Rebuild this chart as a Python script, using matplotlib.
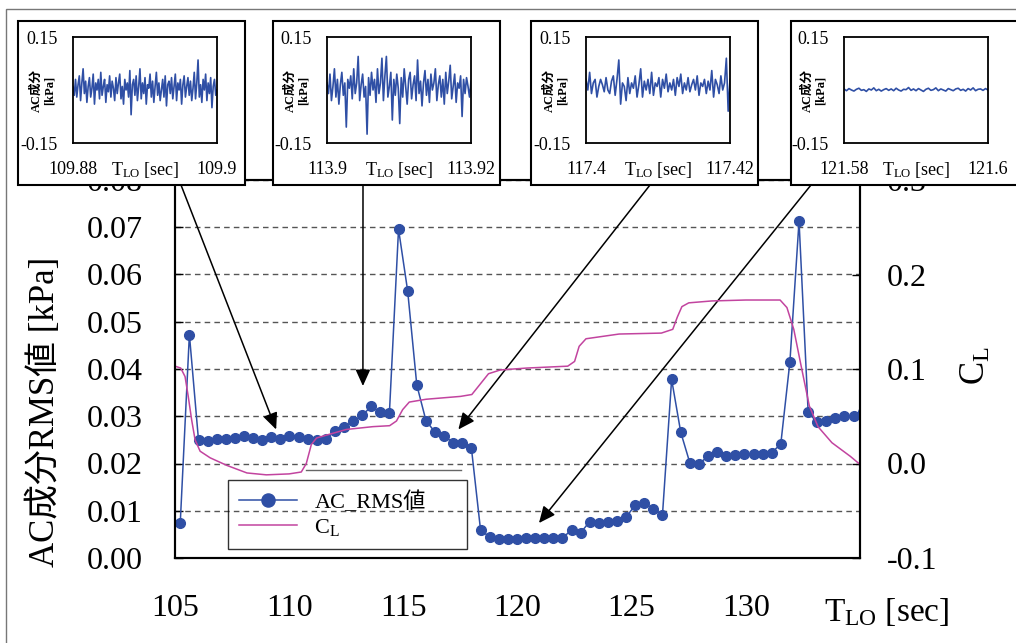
import numpy as np
import matplotlib
matplotlib.use('Agg')
from matplotlib import pyplot as plt
from matplotlib.patches import Rectangle

plt.rcParams['font.family'] = ['Liberation Serif', 'Noto Sans CJK JP']
plt.rcParams['mathtext.fontset'] = 'custom'
plt.rcParams['mathtext.rm'] = 'Liberation Serif'
plt.rcParams['mathtext.it'] = 'Liberation Serif:italic'
plt.rcParams['axes.unicode_minus'] = False

# AC_RMS values (kPa) vs T_LO (sec)
rms_time = [105.23, 105.63, 106.03, 106.43, 106.82, 107.22, 107.62, 108.02, 108.42, 108.82,
             109.22, 109.61, 110.01, 110.41, 110.81, 111.21, 111.61, 112.00, 112.40, 112.80,
             113.20, 113.60, 113.99, 114.39, 114.79, 115.19, 115.59, 115.99, 116.39, 116.79,
             117.19, 117.58, 117.98, 118.38, 118.78, 119.18, 119.58, 119.97, 120.37, 120.77,
             121.17, 121.57, 121.97, 122.37, 122.76, 123.16, 123.56, 123.96, 124.36, 124.76,
             125.16, 125.55, 125.95, 126.35, 126.75, 127.15, 127.55, 127.94, 128.34, 128.74,
             129.14, 129.54, 129.94, 130.34, 130.73, 131.13, 131.53, 131.93, 132.33, 132.73,
             133.13, 133.52, 133.92, 134.32, 134.72, 135.12]
rms_value = [0.0074, 0.0473, 0.0249, 0.0248, 0.0251, 0.0252, 0.0255, 0.0258, 0.0254, 0.0249,
             0.0257, 0.0252, 0.0259, 0.0256, 0.0251, 0.0250, 0.0251, 0.0269, 0.0278, 0.0289,
             0.0302, 0.0321, 0.0308, 0.0307, 0.0696, 0.0565, 0.0366, 0.0291, 0.0266, 0.0259,
             0.0243, 0.0244, 0.0233, 0.0060, 0.0044, 0.0040, 0.0040, 0.0041, 0.0042, 0.0042,
             0.0042, 0.0042, 0.0042, 0.0060, 0.0053, 0.0077, 0.0074, 0.0076, 0.0078, 0.0087,
             0.0112, 0.0117, 0.0104, 0.0092, 0.0378, 0.0266, 0.0201, 0.0199, 0.0215, 0.0224,
             0.0215, 0.0217, 0.0220, 0.0221, 0.0221, 0.0223, 0.0241, 0.0415, 0.0713, 0.0308,
             0.0287, 0.0289, 0.0296, 0.0300, 0.0301, 0.0308]

# lift coefficient C_L
cl_time = [105.0, 105.25, 105.44, 105.58, 105.73, 105.88, 106.1, 106.54, 107.27, 108.15,
           109.0, 110.0, 110.53, 110.75, 110.97, 111.2, 111.63, 112.5, 113.67, 114.4,
           114.7, 114.97, 115.26, 116.0, 117.5, 118.0, 118.3, 118.73, 119.25, 120.4,
           122.2, 122.5, 122.7, 123.0, 124.45, 126.3, 126.8, 127.0, 127.2, 127.5,
           128.5, 130.0, 131.5, 131.8, 132.1, 132.39, 132.78, 133.16, 133.77, 134.58, 135.0]
cl_value = [0.103, 0.101, 0.092, 0.071, 0.046, 0.025, 0.013, 0.006, -0.002, -0.010,
            -0.012, -0.011, -0.009, 0.000, 0.020, 0.027, 0.030, 0.036, 0.039, 0.040,
            0.045, 0.057, 0.065, 0.068, 0.071, 0.073, 0.082, 0.095, 0.099, 0.101,
            0.103, 0.108, 0.124, 0.132, 0.137, 0.138, 0.142, 0.155, 0.166, 0.170,
            0.172, 0.173, 0.173, 0.165, 0.142, 0.107, 0.061, 0.039, 0.022, 0.0075, -0.001]

x_ticks = [105, 110, 115, 120, 125, 130]
left_ticks = [0.00, 0.01, 0.02, 0.03, 0.04, 0.05, 0.06, 0.07, 0.08]
right_ticks = [-0.1, 0.0, 0.1, 0.2, 0.3]

# waveforms shown in the four small windows (kPa)
inset_range = [(109.88, 109.9), (113.9, 113.92), (117.4, 117.42), (121.58, 121.6)]
inset_labels = [('109.88', '109.9'), ('113.9', '113.92'), ('117.4', '117.42'), ('121.58', '121.6')]
wave1 = [0.010, -0.015, 0.030, -0.020, 0.015, 0.040, -0.030, 0.020, 0.060, -0.010, 0.025, -0.035,
         0.010, 0.035, -0.020, 0.005, 0.045, -0.040, 0.020, 0.000, 0.030, -0.025, 0.050, -0.015,
         0.010, 0.030, -0.035, 0.015, -0.005, 0.040, -0.020, 0.025, 0.005, -0.030, 0.035, -0.010,
         0.020, 0.045, -0.025, 0.010, -0.040, 0.030, 0.000, 0.020, -0.020, 0.055, -0.070, 0.015,
         0.030, -0.015, 0.040, -0.030, 0.010, 0.060, -0.025, 0.020, -0.010, 0.035, -0.040, 0.015,
         0.005, 0.045, -0.020, 0.025, -0.035, 0.010, 0.050, -0.015, 0.020, -0.030, 0.000, 0.030,
         -0.020, 0.040, -0.045, 0.015, 0.025, -0.010, 0.035, -0.025, 0.010, 0.045, -0.030, 0.020,
         0.000, 0.030, -0.040, 0.015, 0.040, -0.020, 0.010, 0.035, -0.015, 0.025, -0.030, 0.005,
         0.050, -0.025, 0.020, 0.085, -0.020, 0.015, -0.035, 0.030, 0.000, 0.045, -0.030, 0.020,
         -0.010, 0.035, -0.050, 0.010, 0.030, -0.015, 0.000]
wave2 = [0.020, -0.010, 0.045, -0.030, 0.010, 0.060, -0.020, 0.030, -0.040, 0.015, 0.050, -0.015,
         0.020, -0.105, 0.030, 0.005, 0.040, -0.025, 0.060, -0.010, 0.020, 0.095, -0.030, 0.015,
         0.045, -0.020, 0.010, -0.125, 0.035, -0.015, 0.050, 0.000, 0.030, -0.035, 0.060, -0.010,
         0.020, 0.090, -0.030, 0.040, 0.095, -0.020, 0.010, 0.050, -0.085, 0.030, -0.015, 0.045,
         0.005, -0.095, 0.035, -0.020, 0.060, 0.010, -0.040, 0.030, 0.050, -0.025, 0.015, 0.040,
         -0.030, 0.085, -0.010, 0.025, -0.045, 0.020, 0.055, -0.015, 0.030, -0.035, 0.045, 0.000,
         0.020, 0.060, -0.030, 0.015, 0.040, -0.020, 0.030, -0.040, 0.050, -0.010, 0.025, 0.070,
         -0.025, 0.010, 0.045, -0.035, 0.020, 0.005, 0.040, -0.075, 0.030, -0.010, 0.035, 0.010,
         -0.020, 0.025]
wave3 = [0.030, 0.000, 0.050, -0.010, 0.020, 0.030, -0.020, 0.010, 0.030, 0.015, -0.005, 0.035,
         0.000, -0.010, 0.025, 0.040, -0.015, 0.030, 0.085, -0.040, 0.020, 0.010, -0.030, 0.035,
         -0.010, 0.020, 0.005, 0.040, -0.020, 0.015, 0.060, -0.020, 0.025, 0.000, 0.030, -0.010,
         0.050, -0.015, 0.020, 0.010, 0.035, -0.020, 0.030, 0.005, 0.045, -0.005, 0.020, 0.000,
         0.030, -0.015, 0.035, 0.010, 0.045, -0.010, 0.020, 0.000, 0.035, -0.005, 0.015, 0.030,
         0.000, 0.040, -0.015, 0.020, 0.010, 0.030, -0.010, 0.025, 0.000, 0.055, -0.020, 0.030,
         0.015, -0.010, 0.040, 0.000, 0.020, 0.090, -0.060, 0.030]
wave4 = [0.003, -0.002, 0.004, 0.000, -0.003, 0.002, 0.005, -0.001, 0.001, -0.004, 0.003, 0.000,
         0.006, -0.002, 0.002, -0.003, 0.001, 0.004, -0.001, 0.003, -0.002, 0.005, 0.000, -0.003,
         0.002, 0.001, 0.007, -0.001, 0.003, -0.002, 0.004, 0.000, -0.004, 0.002, 0.005, -0.001,
         0.001, 0.006, -0.002, 0.003, 0.000, -0.003, 0.004, 0.001, -0.002, 0.003, 0.005, -0.001,
         0.002, -0.003, 0.004, 0.000, 0.006, -0.002, 0.002, 0.003, -0.001, 0.004, 0.000]
waves = [wave1, wave2, wave3, wave4]

# arrow tips (data) for each window
arrow_tip_time = [109.43, 113.23, 117.41, 120.94]
arrow_tip_value = [0.0272, 0.0364, 0.0272, 0.0074]

blue = '#2F4FA5'
magenta = '#C2449F'
W, H = 1016, 643

fig = plt.figure(figsize=(W / 100, H / 100), dpi=100)

# outer gray frame
fig.add_artist(Rectangle((6 / W, -0.05), 1.1, (H - 9) / H + 0.05, transform=fig.transFigure,
                         fill=False, edgecolor='#777777', lw=1, zorder=0.5))

ax = fig.add_axes([175 / W, (H - 558) / H, 685 / W, 378 / H])
ax2 = ax.twinx()

ax.plot(rms_time, rms_value, color=blue, lw=1.1, marker='o', ms=7, label='AC_RMS値')
ax2.plot(cl_time, cl_value, color=magenta, lw=1.1, label='C$_{\\mathrm{L}}$')

ax.set_xlim(105, 135)
ax.set_ylim(0, 0.08)
ax2.set_ylim(-0.1, 0.3)
ax.set_xticks(x_ticks)
ax.set_yticks(left_ticks)
ax.set_yticklabels(['%.2f' % v for v in left_ticks])
ax2.set_yticks(right_ticks)
ax2.set_yticklabels(['%.1f' % v for v in right_ticks])
ax.set_xticks([110, 115, 120, 125, 130], minor=True)

ax.grid(False)
ax.grid(True, axis='y', which='major', linestyle=(0, (4, 3)), color='#555555', lw=1)
ax.grid(True, axis='x', which='minor', linestyle=(0, (4, 3)), color='#555555', lw=1)
ax.tick_params(axis='x', which='both', length=0, labelsize=23, pad=26)
ax.tick_params(axis='y', direction='in', length=6, width=1, labelsize=23, pad=23)
ax2.tick_params(axis='y', direction='in', length=6, width=1, labelsize=23, pad=19)
for a in (ax, ax2):
    for s in a.spines.values():
        s.set_linewidth(1.5)
        s.set_color('black')

# stray gray rule above the legend
ax.plot([0.191, 0.4175], [0.233, 0.233], transform=ax.transAxes, color='#666666', lw=1)

handles = ax.get_lines()[:1] + ax2.get_lines()[:1]
leg = ax2.legend(handles, [h.get_label() for h in handles], loc='upper left',
                 bbox_to_anchor=(0.077, 0.029, 0.35, 0.177), mode='expand',
                 borderaxespad=0, fontsize=16, markerscale=1.35, handlelength=2.6,
                 fancybox=False, frameon=True, borderpad=0.5, labelspacing=0.2)
leg.get_frame().set_edgecolor('black')
leg.get_frame().set_facecolor('none')
leg.get_frame().set_linewidth(1)

fig.text(45 / W, (H - 412) / H, 'AC成分RMS値 [kPa]', rotation=90, ha='center', va='center',
         fontsize=25)
fig.text(976 / W, (H - 366) / H, 'C$_{\\mathrm{L}}$', rotation=90, ha='center', va='center',
         fontsize=25)
fig.text(887 / W, (H - 612) / H, 'T$_{\\mathrm{LO}}$ [sec]', ha='center', va='center', fontsize=24)

# arrows from the windows to the curve
arrow_start_px = [181, 363, 650, 811]
for i in range(4):
    ax.annotate('', xy=(arrow_tip_time[i], arrow_tip_value[i]), xycoords='data',
                xytext=(arrow_start_px[i], H - 185), textcoords='figure pixels',
                arrowprops=dict(arrowstyle='-|>,head_length=1.0,head_width=0.45',
                                mutation_scale=10, color='black', lw=1.1,
                                shrinkA=0, shrinkB=0),
                annotation_clip=False)

# the four waveform windows
box_left = [18, 273, 531, 791]
inner_left = [73, 327, 586, 844]
for i in range(4):
    bw = 227 if i < 3 else 260
    fig.add_artist(Rectangle((box_left[i] / W, (H - 185) / H), bw / W, 164 / H,
                             transform=fig.transFigure, facecolor='white',
                             edgecolor='black', lw=1.5, zorder=1))
    ia = fig.add_axes([inner_left[i] / W, (H - 143) / H, 144 / W, 106 / H], zorder=3)
    t0, t1 = inset_range[i]
    ia.plot(np.linspace(t0, t1, len(waves[i])), waves[i], color=blue, lw=1.2)
    ia.set_xlim(t0, t1)
    ia.set_ylim(-0.15, 0.15)
    ia.set_xticks([t0, t1])
    ia.set_xticklabels(inset_labels[i])
    ia.set_yticks([-0.15, 0.15])
    ia.set_yticklabels(['-0.15', '0.15'])
    ia.tick_params(length=0, labelsize=13)
    ia.tick_params(axis='y', pad=11)
    ia.tick_params(axis='x', pad=13)
    for s in ia.spines.values():
        s.set_linewidth(1.3)
    ia.text(0.5, -0.255, 'T$_{\\mathrm{LO}}$ [sec]', transform=ia.transAxes,
            ha='center', va='center', fontsize=13)
    ia.text(-0.21, 0.5, 'AC成分\n[kPa]', transform=ia.transAxes, rotation=90,
            ha='center', va='center', fontsize=9, fontweight='bold', linespacing=1.1)

fig.savefig('out.png', dpi=100)
